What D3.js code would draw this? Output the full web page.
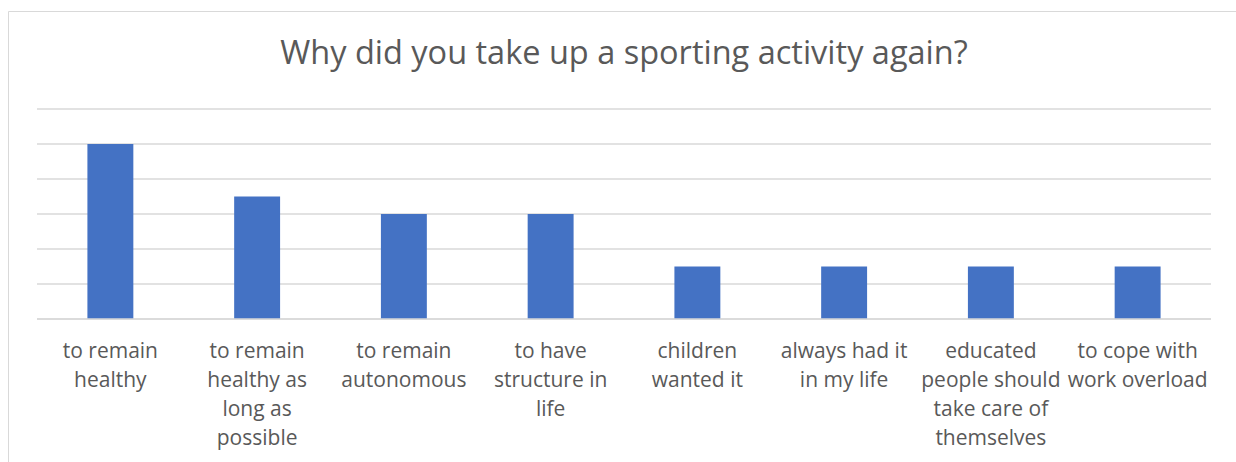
<!DOCTYPE html>
<html><head><meta charset="utf-8">
<script src="https://cdn.jsdelivr.net/npm/d3@7"></script>
<style>html,body{margin:0;padding:0;background:#fff;} svg{display:block;}</style>
</head><body>
<svg id="chart" width="1236" height="462"></svg>
<script>
const title = "Why did you take up a sporting activity again?";
const categories = ["to remain healthy","to remain healthy as long as possible","to remain autonomous","to have structure in life","children wanted it","always had it in my life","educated people should take care of themselves","to cope with work overload"];
const labelLines = [["to remain","healthy"],["to remain","healthy as","long as","possible"],["to remain","autonomous"],["to have","structure in","life"],["children","wanted it"],["always had it","in my life"],["educated","people should","take care of","themselves"],["to cope with","work overload"]];
const values = [10,7,6,6,3,3,3,3];
const yTicks = [0,2,4,6,8,10,12];

const svg = d3.select("#chart");
const font = "'Open Sans', sans-serif";
const textColor = "#595959";

// chart border
svg.append("path").attr("d","M8.5,462 L8.5,11.5 L1236,11.5").attr("fill","none").attr("stroke","#d9d9d9").attr("stroke-width",1);

const m = {left:37, right:1211, top:109, bottom:319};
const x = d3.scaleBand().domain(categories).range([m.left,m.right]).paddingInner(0.687).paddingOuter(0.3435);
const y = d3.scaleLinear().domain([0,12]).range([m.bottom,m.top]);

svg.append("g").selectAll("line").data(yTicks).join("line")
  .attr("x1",m.left).attr("x2",m.right)
  .attr("y1",d=>y(d)).attr("y2",d=>y(d))
  .attr("stroke","#d9d9d9").attr("stroke-width",1.5);

svg.append("g").selectAll("rect").data(values).join("rect")
  .attr("x",(d,i)=>x(categories[i]))
  .attr("width",x.bandwidth())
  .attr("y",d=>y(d))
  .attr("height",d=>y(0)-y(d))
  .attr("fill","#4472C4");

svg.append("line").attr("x1",m.left).attr("x2",m.right).attr("y1",y(0)).attr("y2",y(0)).attr("stroke","#d9d9d9").attr("stroke-width",1.5);

const lbl = svg.append("g").attr("font-family",font).attr("font-size",21).attr("fill",textColor).attr("text-anchor","middle");
categories.forEach((c,i)=>{
  const cx = x(c)+x.bandwidth()/2;
  const t = lbl.append("text").attr("x",cx).attr("y",358);
  labelLines[i].forEach((ln,j)=>{
    t.append("tspan").attr("x",cx).attr("y",358+j*29).text(ln);
  });
});

svg.append("text").attr("x",624).attr("y",64).attr("text-anchor","middle")
  .attr("font-family",font).attr("font-size",32.5).attr("fill",textColor).text(title);
</script>
</body></html>
